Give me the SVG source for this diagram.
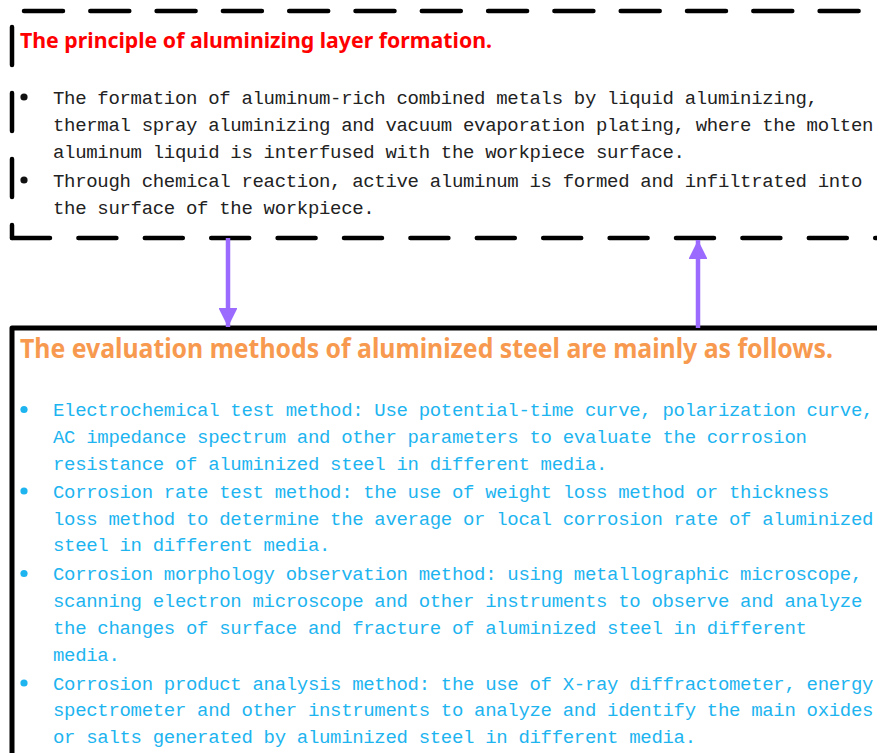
<svg xmlns="http://www.w3.org/2000/svg" width="877" height="753" viewBox="0 0 877 753">
<defs>
<style>
.dash{fill:none;stroke:#000;stroke-width:4.5;stroke-linecap:round}
.solid{fill:none;stroke:#000;stroke-width:5;stroke-linejoin:round}
.t1{font-family:"Noto Sans","Open Sans","Liberation Sans",sans-serif;font-weight:bold;font-size:22px;fill:#FF0000}
.t2{font-family:"Noto Sans","Open Sans","Liberation Sans",sans-serif;font-weight:bold;font-size:26px;fill:#F79A50}
.body{font-family:"Liberation Mono","DejaVu Sans Mono",monospace;font-size:19px;letter-spacing:-0.32px;fill:#222}
.blue{font-family:"Liberation Mono","DejaVu Sans Mono",monospace;font-size:19px;letter-spacing:-0.32px;fill:#1DB4F0}
.conn{stroke:#9B6BFF;stroke-width:4.5;fill:none}
</style>
<marker id="ah" viewBox="0 0 10 10" refX="10" refY="5" markerWidth="4.2" markerHeight="4.2" markerUnits="strokeWidth" orient="auto">
<path d="M0,0 L10,5 L0,10 Z" fill="#9B6BFF"/>
</marker>
</defs>
<rect width="877" height="753" fill="#fff"/>

<g id="principle">
<path class="dash" d="M24,11 H880" stroke-dasharray="39 27.3"/>
<path class="dash" d="M12,27 V238" stroke-dasharray="38 28"/>
<path class="dash" d="M12,238 H880" stroke-dasharray="38 28.4"/>
<text class="t1" x="20" y="48" textLength="472" lengthAdjust="spacingAndGlyphs">The principle of aluminizing layer formation.</text>
<circle cx="24" cy="97" r="3.6" fill="#111"/>
<circle cx="24" cy="180" r="3.6" fill="#111"/>
<text class="body" x="53" y="103.5">The formation of aluminum-rich combined metals by liquid aluminizing,</text>
<text class="body" x="53" y="130.5">thermal spray aluminizing and vacuum evaporation plating, where the molten</text>
<text class="body" x="53" y="157.5">aluminum liquid is interfused with the workpiece surface.</text>
<text class="body" x="53" y="186.5">Through chemical reaction, active aluminum is formed and infiltrated into</text>
<text class="body" x="53" y="213.5">the surface of the workpiece.</text>
</g>

<g id="evaluation">
<path class="solid" d="M12,760 V328 H885"/>
<text class="t2" x="20" y="358" textLength="813" lengthAdjust="spacingAndGlyphs">The evaluation methods of aluminized steel are mainly as follows.</text>
<g fill="#1DB4F0">
<circle cx="24" cy="409.5" r="3.6"/>
<circle cx="24" cy="491" r="3.6"/>
<circle cx="24" cy="573.5" r="3.6"/>
<circle cx="24" cy="683" r="3.6"/>
</g>
<text class="blue" x="53" y="416">Electrochemical test method: Use potential-time curve, polarization curve,</text>
<text class="blue" x="53" y="443">AC impedance spectrum and other parameters to evaluate the corrosion</text>
<text class="blue" x="53" y="469.5">resistance of aluminized steel in different media.</text>
<text class="blue" x="53" y="497.5">Corrosion rate test method: the use of weight loss method or thickness</text>
<text class="blue" x="53" y="524.5">loss method to determine the average or local corrosion rate of aluminized</text>
<text class="blue" x="53" y="551">steel in different media.</text>
<text class="blue" x="53" y="580">Corrosion morphology observation method: using metallographic microscope,</text>
<text class="blue" x="53" y="607">scanning electron microscope and other instruments to observe and analyze</text>
<text class="blue" x="53" y="634">the changes of surface and fracture of aluminized steel in different</text>
<text class="blue" x="53" y="661">media.</text>
<text class="blue" x="53" y="689.5">Corrosion product analysis method: the use of X-ray diffractometer, energy</text>
<text class="blue" x="53" y="716">spectrometer and other instruments to analyze and identify the main oxides</text>
<text class="blue" x="53" y="742.5">or salts generated by aluminized steel in different media.</text>
</g>

<g id="connectors">
<path class="conn" d="M228,238 V327" marker-end="url(#ah)"/>
<path class="conn" d="M698,328 V240" marker-end="url(#ah)"/>
</g>
</svg>
